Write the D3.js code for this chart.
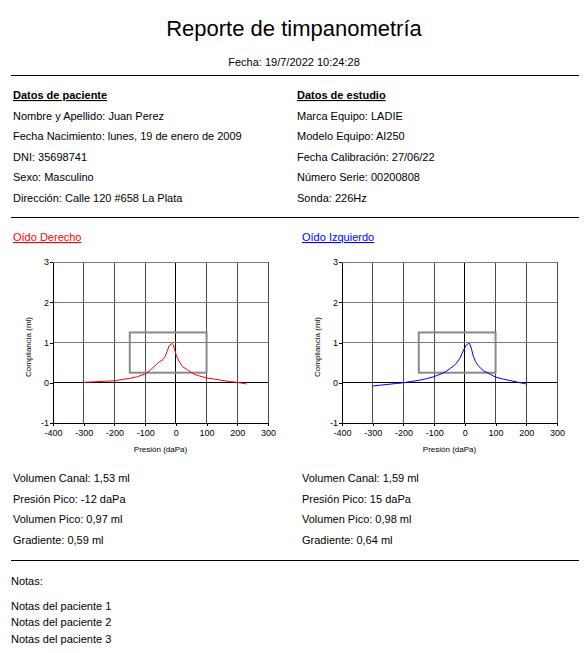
<!DOCTYPE html>
<html lang="es">
<head>
<meta charset="UTF-8">
<title>Reporte de timpanometría</title>
<script src="https://d3js.org/d3.v7.min.js"></script>
<style>
    body{margin:0;background:#fff;}
    svg text{font-family:"Liberation Sans",Arial,sans-serif;fill:#000;}
    .grid line{shape-rendering:crispEdges;}
    .axis path,.axis line{stroke:#000;shape-rendering:crispEdges;}
    .axis text{font-size:9px;}
    path.curve{fill:none;stroke-width:1px;}
</style>
</head>
<body>
<svg width="588" height="653"></svg>
<script>

// report texts
let title = 'Reporte de timpanometría';
let fecha = 'Fecha: 19/7/2022 10:24:28';
let patientHeader = 'Datos de paciente';
let patientLines = ['Nombre y Apellido: Juan Perez', 'Fecha Nacimiento: lunes, 19 de enero de 2009',
    'DNI: 35698741', 'Sexo: Masculino', 'Dirección: Calle 120 #658 La Plata'];
let studyHeader = 'Datos de estudio';
let studyLines = ['Marca Equipo: LADIE', 'Modelo Equipo: AI250', 'Fecha Calibración: 27/06/22',
    'Número Serie: 00200808', 'Sonda: 226Hz'];
let derechoStats = ['Volumen Canal: 1,53 ml', 'Presión Pico: -12 daPa', 'Volumen Pico: 0,97 ml', 'Gradiente: 0,59 ml'];
let izquierdoStats = ['Volumen Canal: 1,59 ml', 'Presión Pico: 15 daPa', 'Volumen Pico: 0,98 ml', 'Gradiente: 0,64 ml'];
let notesTitle = 'Notas:';
let notes = ['Notas del paciente 1', 'Notas del paciente 2', 'Notas del paciente 3'];

// curves: pressure (daPa) / compliance (ml)
let derechoPressure = [-300,-275,-250,-225,-200,-175,-150,-125,-103,-87,-71,-60,-54,-43,-35,-27,-22,-16,-12,-8,-5,2,11,22,38,60,76,100,125,150,175,200,215,230];
let derechoCompliance = [0.01,0.02,0.03,0.04,0.05,0.08,0.11,0.15,0.21,0.29,0.40,0.48,0.52,0.57,0.65,0.81,0.92,0.96,0.97,0.94,0.85,0.67,0.52,0.40,0.32,0.21,0.17,0.12,0.09,0.06,0.03,0.01,-0.01,-0.03];
let izquierdoPressure = [-300,-275,-250,-225,-200,-175,-150,-125,-101,-74,-60,-47,-30,-16,-9,-1,5,11,15,21,27,35,46,62,78,100,125,150,175,200];
let izquierdoCompliance = [-0.08,-0.06,-0.04,-0.02,0.0,0.03,0.06,0.10,0.15,0.23,0.29,0.36,0.46,0.61,0.73,0.86,0.94,0.97,0.98,0.86,0.67,0.52,0.40,0.29,0.23,0.14,0.09,0.05,0.01,-0.03];

// axes and the reference box
let xTicks = [-400,-300,-200,-100,0,100,200,300];
let yTicks = [-1,0,1,2,3];
let boxPressure = [-150,100];
let boxCompliance = [0.25,1.25];

// 1 select the svg
let svg = d3.select('svg');
svg.append('rect').attr('width',588).attr('height',653).attr('fill','#fff');

// 2 header
svg.append('text').attr('x',294).attr('y',36).attr('text-anchor','middle')
    .style('font-size','22px').text(title);
svg.append('text').attr('x',294).attr('y',66).attr('text-anchor','middle')
    .style('font-size','11px').text(fecha);

function hline(y){
    svg.append('line').attr('x1',11).attr('x2',579).attr('y1',y+0.5).attr('y2',y+0.5)
        .attr('stroke','#000').attr('stroke-width',1.2);
}
hline(75);
hline(217);
hline(560);

// 3 patient and study blocks
function textBlock(x, header, lines){
    svg.append('text').attr('x',x).attr('y',99).style('font-size','11px')
        .style('font-weight','bold').style('text-decoration','underline').text(header);
    svg.selectAll(null).data(lines).enter().append('text')
        .attr('x',x).attr('y',function(d,i){return 119.5+i*20.5})
        .style('font-size','11px').text(function(d){return d});
}
textBlock(13, patientHeader, patientLines);
textBlock(297, studyHeader, studyLines);

// plain labels with a hyphen minus, like the printout
let tickText = function(d){return String(d)};

// 4 the two tympanograms
function drawChart(x0, label, color, pressure, compliance, stats){
    let plot = {left:x0, right:x0+215, top:262, bottom:423};
    let xScale = d3.scaleLinear().domain([-400,300]).range([plot.left,plot.right]);
    let yScale = d3.scaleLinear().domain([-1,3]).range([plot.bottom,plot.top]);

    svg.append('text').attr('x',x0-40).attr('y',241).style('font-size','11px')
        .style('fill',color).style('text-decoration','underline').text(label);

    let fig = svg.append('g');
    let grid = fig.append('g').attr('class','grid');
    grid.selectAll('line.v').data(xTicks.slice(1)).enter().append('line').attr('class','v')
        .attr('x1',function(d){return xScale(d)}).attr('x2',function(d){return xScale(d)})
        .attr('y1',plot.top).attr('y2',plot.bottom)
        .attr('stroke',function(d){return d==0 ? '#000' : '#4a4a4a'});
    grid.selectAll('line.h').data(yTicks.slice(1)).enter().append('line').attr('class','h')
        .attr('x1',plot.left).attr('x2',plot.right)
        .attr('y1',function(d){return yScale(d)}).attr('y2',function(d){return yScale(d)})
        .attr('stroke',function(d){return d==0 ? '#000' : '#7a7a7a'})
        .attr('stroke-width',function(d){return d==0 ? 1.3 : 1});

    fig.append('rect')
        .attr('x',xScale(boxPressure[0])).attr('y',yScale(boxCompliance[1]))
        .attr('width',xScale(boxPressure[1])-xScale(boxPressure[0]))
        .attr('height',yScale(boxCompliance[0])-yScale(boxCompliance[1]))
        .attr('fill','none').attr('stroke','#8a8a8a').attr('stroke-width',2);

    let points = d3.zip(pressure, compliance);
    let line = d3.line()
        .x(function(d){return xScale(d[0])})
        .y(function(d){return yScale(d[1])});
    fig.append('path').datum(points).attr('class','curve')
        .attr('stroke',color).attr('d',line);

    fig.append('g').attr('class','axis').attr('transform','translate(0,'+plot.bottom+')')
        .call(d3.axisBottom(xScale).tickValues(xTicks).tickFormat(tickText)
            .tickSizeInner(3).tickSizeOuter(0).tickPadding(4));
    fig.append('g').attr('class','axis').attr('transform','translate('+plot.left+',0)')
        .call(d3.axisLeft(yScale).tickValues(yTicks).tickFormat(tickText)
            .tickSizeInner(3).tickSizeOuter(0).tickPadding(1));

    fig.append('text').attr('x',(plot.left+plot.right)/2).attr('y',452)
        .attr('text-anchor','middle').style('font-size','8px').text('Presión (daPa)');
    fig.append('text').attr('transform','translate('+(plot.left-22)+',347) rotate(-90)')
        .attr('text-anchor','middle').style('font-size','8px').text('Compliancia (ml)');

    svg.selectAll(null).data(stats).enter().append('text')
        .attr('x',x0-40).attr('y',function(d,i){return 482+i*20.6})
        .style('font-size','11px').text(function(d){return d});
}
drawChart(53, 'Oído Derecho', '#ff0000', derechoPressure, derechoCompliance, derechoStats);
drawChart(342, 'Oído Izquierdo', '#0000ff', izquierdoPressure, izquierdoCompliance, izquierdoStats);

// 5 notes
svg.append('text').attr('x',11).attr('y',585).style('font-size','11px').text(notesTitle);
svg.selectAll(null).data(notes).enter().append('text')
    .attr('x',11).attr('y',function(d,i){return 610+i*16.3})
    .style('font-size','11px').text(function(d){return d});
</script>
</body>
</html>
